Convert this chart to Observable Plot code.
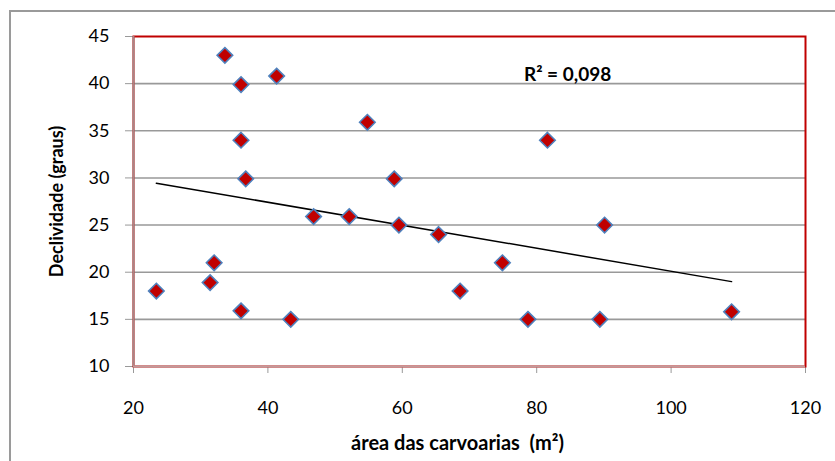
<!DOCTYPE html>
<html>
<head>
<meta charset="utf-8">
<script src="https://cdn.jsdelivr.net/npm/d3@7"></script>
<script src="https://cdn.jsdelivr.net/npm/@observablehq/plot@0.6"></script>
<style>
  html, body { margin: 0; padding: 0; background: #fff; }
  #wrap { position: relative; width: 835px; height: 461px; overflow: hidden; }
  #outer { position: absolute; left: 9px; top: 10px; width: 900px; height: 500px;
           border-left: 2px solid #9a9a9a; border-top: 2px solid #9a9a9a; box-sizing: border-box; }
  #chart { position: absolute; left: 0; top: 0; }
</style>
</head>
<body>
<div id="wrap"><div id="outer"></div><div id="chart"></div></div>
<script>
// Data
const area = [23.4, 31.4, 32.0, 33.6, 36.0, 36.0, 36.0, 36.7, 41.3, 43.4, 46.8, 52.1, 54.8, 58.8, 59.5, 65.4, 68.6, 74.9, 78.7, 81.6, 89.4, 90.1, 109.0];
const declividade = [18.0, 18.9, 21.0, 43.0, 39.9, 34.0, 15.9, 29.9, 40.8, 15.0, 25.9, 25.9, 35.9, 29.9, 25.0, 24.0, 18.0, 21.0, 15.0, 34.0, 15.0, 25.0, 15.8];
const xTicks = [20, 40, 60, 80, 100, 120];
const yTicks = [10, 15, 20, 25, 30, 35, 40, 45];
const xTitle = "área das carvoarias \u00a0(m²)";
const yTitle = "Declividade (graus)";
const r2Label = "R² = 0,098";
const r2Pos = [84.6, 40.9];

const data = area.map((a, i) => ({area: a, decl: declividade[i]}));

const diamond = {
  draw(ctx, size) {
    const r = Math.sqrt(size) * 0.62625;
    ctx.moveTo(0, -r); ctx.lineTo(r, 0); ctx.lineTo(0, r); ctx.lineTo(-r, 0); ctx.closePath();
  }
};

const chart = Plot.plot({
  width: 835,
  height: 461,
  marginLeft: 133,
  marginRight: 30,
  marginTop: 36,
  marginBottom: 95,
  style: {fontFamily: "Lato, 'Open Sans', sans-serif", fontSize: "18px", color: "#000", background: "transparent"},
  x: {domain: [20, 120]},
  y: {domain: [10, 45]},
  marks: [
    Plot.gridY(yTicks.filter(d => d > 10 && d < 45), {stroke: "#999", strokeOpacity: 1, strokeWidth: 1.6}),
    Plot.axisY({ticks: yTicks, tickSize: 8, tickPadding: 16, stroke: "#999", label: null, fontSize: 18}),
    Plot.axisX({ticks: xTicks, tickSize: 7, tickPadding: 28, stroke: "#999", label: null, fontSize: 18}),
    Plot.frame({stroke: "#c00000", strokeWidth: 2}),
    Plot.ruleX([20], {stroke: "#a88686", strokeWidth: 2}),
    Plot.ruleY([10], {stroke: "#c29a9a", strokeWidth: 2}),
    Plot.linearRegressionY(data, {x: "area", y: "decl", ci: 0, stroke: "#000", strokeWidth: 1.5}),
    Plot.dot(data, {x: "area", y: "decl", symbol: diamond, r: 7, fill: "#c00000", stroke: "#4f81bd", strokeWidth: 1.6}),
    Plot.text([r2Label], {x: () => r2Pos[0], y: () => r2Pos[1], text: d => d, fontWeight: "bold", fontSize: 19, textAnchor: "middle"}),
    Plot.text([xTitle], {frameAnchor: "bottom", text: d => d, textAnchor: "middle", lineAnchor: "middle", dx: -12, dy: 77, fontWeight: "bold", fontSize: 20}),
    Plot.text([yTitle], {frameAnchor: "left", text: d => d, textAnchor: "middle", lineAnchor: "middle", rotate: -90, dx: -76, fontWeight: "bold", fontSize: 18})
  ]
});
document.getElementById("chart").appendChild(chart);
</script>
</body>
</html>
